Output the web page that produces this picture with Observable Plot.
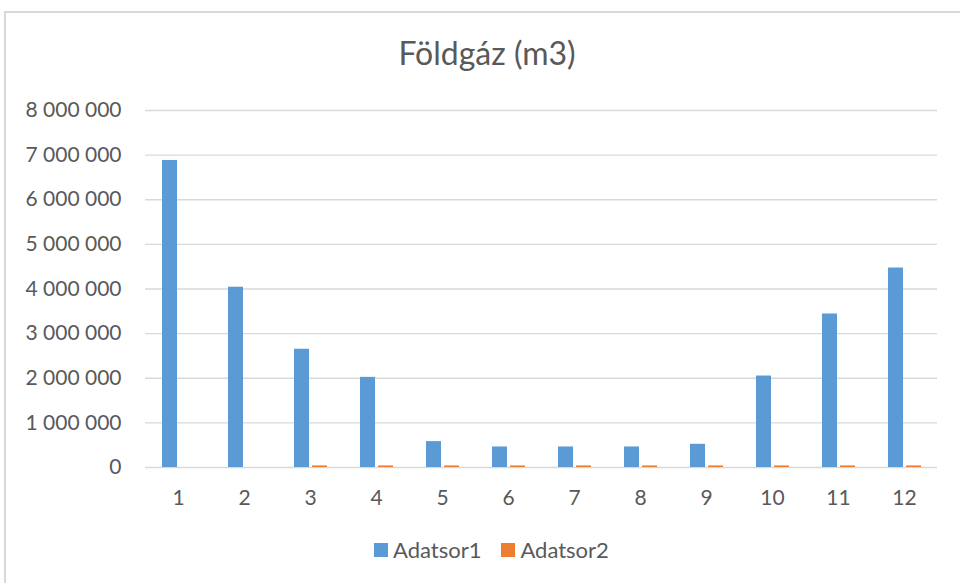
<!DOCTYPE html>
<html>
<head>
<meta charset="utf-8">
<script src="https://cdn.jsdelivr.net/npm/d3@7"></script>
<script src="https://cdn.jsdelivr.net/npm/@observablehq/plot@0.6"></script>
<style>
  html, body { margin: 0; padding: 0; background: #fff; overflow: hidden; width: 960px; height: 583px; }
  #frame { position: absolute; left: 4px; top: 11px; width: 1000px; height: 1000px; border: 2px solid #d9d9d9; box-sizing: border-box; }
  #title { position: absolute; left: 4px; width: 966px; top: 37px; text-align: center; font-family: Lato, sans-serif; font-size: 32px; line-height: 32px; color: #595959; }
  #chart { position: absolute; left: 0; top: 90px; }
  #legend { position: absolute; left: 374px; top: 538px; display: flex; align-items: center; font-family: Lato, sans-serif; font-size: 22px; line-height: 24px; color: #595959; }
  .item { display: flex; align-items: center; margin-right: 20px; }
  .sw { width: 14px; height: 14px; margin-right: 5px; }
</style>
</head>
<body>
<div id="frame"></div>
<div id="title">Földgáz (m3)</div>
<div id="chart"></div>
<div id="legend"></div>
<script>
const months = ["1", "2", "3", "4", "5", "6", "7", "8", "9", "10", "11", "12"];
const seriesNames = ["Adatsor1", "Adatsor2"];
const adatsor1 = [6880000, 4040000, 2650000, 2020000, 580000, 460000, 460000, 460000, 520000, 2050000, 3440000, 4470000];
const adatsor2 = [0, 0, 35000, 35000, 35000, 35000, 35000, 35000, 35000, 35000, 35000, 35000];
const yTicks = [0, 1000000, 2000000, 3000000, 4000000, 5000000, 6000000, 7000000, 8000000];
const colors = ["#5B9BD5", "#ED7D31"];

const data = months.flatMap((m, i) => [
  {month: m, series: seriesNames[0], value: adatsor1[i]},
  {month: m, series: seriesNames[1], value: adatsor2[i]}
]);

const fmt = d3.formatLocale({decimal: ",", thousands: " ", grouping: [3], currency: ["", ""]}).format(",");

const chart = Plot.plot({
  width: 960,
  height: 430,
  marginTop: 20,
  marginBottom: 53,
  marginLeft: 142,
  marginRight: 21,
  style: {fontFamily: "Lato, sans-serif", fontSize: "21px", color: "#595959", background: "transparent"},
  fx: {domain: months, padding: 0, label: null, tickSize: 0, tickPadding: 23, axis: "bottom"},
  x: {domain: seriesNames, axis: null, paddingInner: 0.19, paddingOuter: 0.89},
  y: {domain: [0, 8000000], ticks: yTicks, tickFormat: fmt, tickSize: 0, tickPadding: 24, label: null},
  color: {domain: seriesNames, range: colors},
  marks: [
    Plot.ruleY(yTicks, {stroke: "#d9d9d9", strokeWidth: 1.3}),
    Plot.barY(data, {fx: "month", x: "series", y: "value", fill: "series"})
  ]
});
document.getElementById("chart").appendChild(chart);

const legend = document.getElementById("legend");
seriesNames.forEach((name, i) => {
  const item = document.createElement("div");
  item.className = "item";
  const sw = document.createElement("div");
  sw.className = "sw";
  sw.style.background = colors[i];
  const label = document.createElement("span");
  label.textContent = name;
  item.appendChild(sw);
  item.appendChild(label);
  legend.appendChild(item);
});
</script>
</body>
</html>
